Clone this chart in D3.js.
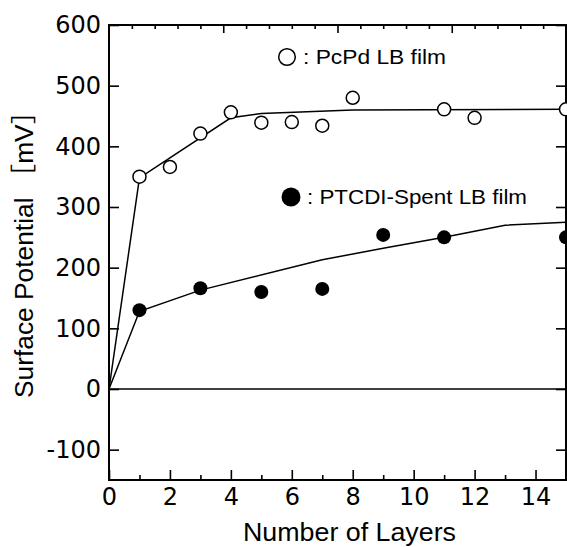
<!DOCTYPE html>
<html>
<head>
<meta charset="utf-8">
<script src="https://cdn.jsdelivr.net/npm/d3@7"></script>
<style>
  body { margin: 0; background: #fff; }
  svg { display: block; }
  .tick text { font-family: 'DejaVu Sans', sans-serif; font-size: 24px; fill: #000; }
</style>
</head>
<body>
<script>
// measured points
const pcpdLayers = [1, 2, 3, 4, 5, 6, 7, 8, 11, 12, 15]
const pcpdValues = [350, 366, 421, 456, 439, 440, 434, 480, 461, 447, 461]
const ptcdiLayers = [1, 3, 5, 7, 9, 11, 15]
const ptcdiValues = [130, 166, 160, 165, 254, 250, 250]

// guide curves drawn through the data
const pcpdFitX = [0, 1, 4, 5, 8, 15]
const pcpdFitY = [0, 348, 447, 454, 460, 461]
const ptcdiFitX = [0, 1, 3, 7, 9, 11, 13, 15]
const ptcdiFitY = [0, 128, 163, 213, 232, 250, 270, 275]

const xTicks = [0, 2, 4, 6, 8, 10, 12, 14]
const yTicks = [-100, 0, 100, 200, 300, 400, 500, 600]

const legendLabels = [': PcPd LB film', ': PTCDI-Spent LB film']

const w = 567
const h = 547
const padL = 109, padR = 566, padT = 25, padB = 480

const xScale = d3.scaleLinear().domain([0, 15]).range([padL, padR])
const yScale = d3.scaleLinear().domain([-150, 600]).range([padB, padT])
const topScale = d3.scaleLinear().domain([0, 20]).range([padL, padR])

const svg = d3.select('body')
  .append('svg')
  .attr('width', w)
  .attr('height', h)

// axes, ticks pointing into the plot
svg.append('g')
  .attr('transform', `translate(0, ${padB})`)
  .call(d3.axisBottom(xScale).tickValues(xTicks).tickSize(-10).tickSizeOuter(0).tickPadding(8))
svg.append('g')
  .attr('transform', `translate(0, ${padB})`)
  .call(d3.axisBottom(xScale).tickValues(d3.range(1, 15, 2)).tickSize(-5).tickSizeOuter(0).tickFormat(''))
svg.append('g')
  .attr('transform', `translate(${padL}, 0)`)
  .call(d3.axisLeft(yScale).tickValues(yTicks).tickSize(-10).tickSizeOuter(0).tickPadding(8)
    .tickFormat(d => String(d)))
svg.append('g')
  .attr('transform', `translate(${padR}, 0)`)
  .call(d3.axisRight(yScale).tickValues(yTicks).tickSize(-10).tickSizeOuter(0).tickFormat(''))
svg.append('g')
  .attr('transform', `translate(0, ${padT})`)
  .call(d3.axisTop(topScale).tickValues([5, 10, 15]).tickSize(-8).tickSizeOuter(0).tickFormat(''))
svg.append('g')
  .attr('transform', `translate(0, ${padT})`)
  .call(d3.axisTop(topScale).tickValues(d3.range(1, 20).filter(d => d % 5)).tickSize(-4).tickSizeOuter(0).tickFormat(''))

svg.selectAll('.domain').remove()
svg.selectAll('.tick line').attr('stroke', '#000').attr('stroke-width', 1.6)

svg.append('rect')
  .attr('x', padL)
  .attr('y', padT)
  .attr('width', padR - padL)
  .attr('height', padB - padT)
  .attr('fill', 'none')
  .attr('stroke', '#000')
  .attr('stroke-width', 2)

svg.append('line')
  .attr('x1', padL)
  .attr('x2', padR)
  .attr('y1', yScale(0))
  .attr('y2', yScale(0))
  .attr('stroke', '#000')
  .attr('stroke-width', 1.6)

const line = d3.line()
  .x(d => xScale(d[0]))
  .y(d => yScale(d[1]))

svg.append('path')
  .attr('d', line(d3.zip(pcpdFitX, pcpdFitY)))
  .attr('fill', 'none')
  .attr('stroke', '#000')
  .attr('stroke-width', 1.5)
svg.append('path')
  .attr('d', line(d3.zip(ptcdiFitX, ptcdiFitY)))
  .attr('fill', 'none')
  .attr('stroke', '#000')
  .attr('stroke-width', 1.5)

svg.selectAll('.open')
  .data(d3.zip(pcpdLayers, pcpdValues))
  .enter()
  .append('circle')
  .attr('class', 'open')
  .attr('cx', d => xScale(d[0]))
  .attr('cy', d => yScale(d[1]))
  .attr('r', 6.5)
  .attr('fill', '#fff')
  .attr('stroke', '#000')
  .attr('stroke-width', 1.5)

svg.selectAll('.filled')
  .data(d3.zip(ptcdiLayers, ptcdiValues))
  .enter()
  .append('circle')
  .attr('class', 'filled')
  .attr('cx', d => xScale(d[0]))
  .attr('cy', d => yScale(d[1]))
  .attr('r', 7)
  .attr('fill', '#000')

// legend
svg.append('circle')
  .attr('cx', 287).attr('cy', 57).attr('r', 8.3)
  .attr('fill', '#fff').attr('stroke', '#000').attr('stroke-width', 1.5)
svg.append('circle')
  .attr('cx', 291).attr('cy', 197).attr('r', 9.5)
  .attr('fill', '#000')
svg.selectAll('.legend')
  .data(legendLabels)
  .enter()
  .append('text')
  .attr('class', 'legend')
  .attr('x', (d, i) => i ? 307 : 303)
  .attr('y', (d, i) => i ? 204 : 64)
  .attr('font-family', 'Liberation Sans, Arial, sans-serif')
  .attr('font-size', 21)
  .attr('textLength', (d, i) => i ? 220 : 143)
  .attr('lengthAdjust', 'spacingAndGlyphs')
  .text(d => d)

// axis titles
svg.append('text')
  .attr('x', 243)
  .attr('y', 541)
  .attr('font-family', 'Liberation Sans, Arial, sans-serif')
  .attr('font-size', 25)
  .attr('textLength', 213)
  .attr('lengthAdjust', 'spacingAndGlyphs')
  .text('Number of Layers')

svg.append('text')
  .attr('transform', 'translate(33, 398) rotate(-90)')
  .attr('font-family', 'Liberation Sans, Arial, "Noto Sans CJK JP", sans-serif')
  .attr('font-size', 26)
  .attr('textLength', 300)
  .attr('lengthAdjust', 'spacingAndGlyphs')
  .text('Surface Potential ［mV］')
</script>
</body>
</html>
